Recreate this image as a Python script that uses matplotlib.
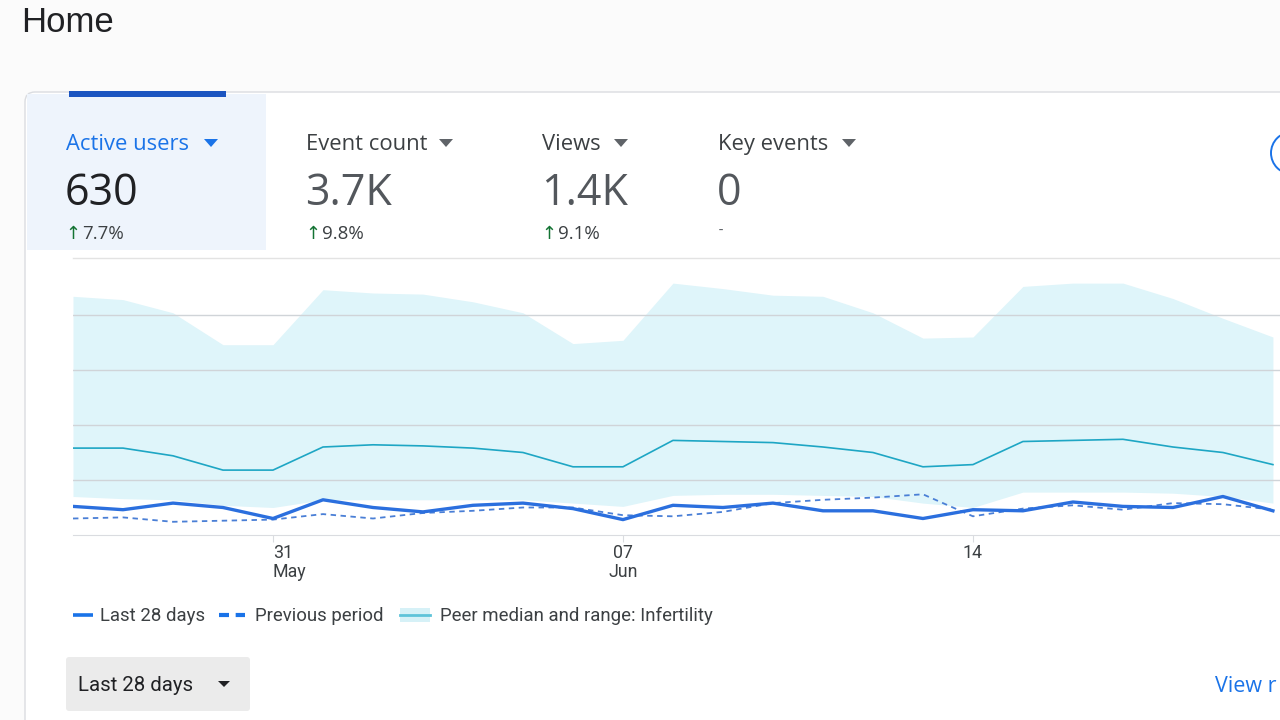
import matplotlib.pyplot as plt
import matplotlib.dates as mdates
import pandas as pd
from matplotlib.patches import FancyBboxPatch, Rectangle, Polygon, Circle

plt.rcParams["font.family"] = ["Roboto", "DejaVu Sans"]
HEAD = ["Open Sans", "DejaVu Sans"]

# daily values (27 May - 20 Jun)
days = pd.date_range("2024-05-27", "2024-06-20")
last_28 = [26, 23, 29, 25, 15, 32, 25, 21, 27, 29, 24, 14, 27,
           25, 29, 22, 22, 15, 23, 22, 30, 26, 25, 35, 22]
previous = [15, 16, 12, 13, 14, 19, 15, 20, 22, 25, 25, 18, 17,
            21, 29, 32, 34, 37, 17, 24, 27, 23, 29, 28, 23]
peer_median = [79, 79, 72, 59, 59, 80, 82, 81, 79, 75, 62, 62, 86,
               85, 84, 80, 75, 62, 64, 85, 86, 87, 80, 75, 64]
peer_low = [35, 33, 32, 27, 25, 32, 32, 32, 32, 32, 29, 26, 36,
            37, 37, 36, 35, 29, 25, 39, 39, 39, 38, 35, 29]
peer_high = [217, 214, 202, 173, 173, 223, 220, 219, 212, 202, 174, 177, 229,
             224, 218, 217, 202, 179, 180, 226, 229, 229, 215, 197, 180]

tick_days = pd.to_datetime(["2024-05-31", "2024-06-07", "2024-06-14"])
tick_labels = ["31\nMay", "07\nJun", "14"]
tick_align = ["left", "center", "center"]

metric_names = ["Active users", "Event count", "Views", "Key events"]
metric_values = ["630", "3.7K", "1.4K", "0"]
metric_changes = ["7.7%", "9.8%", "9.1%", "-"]
metric_x = [66, 306, 542, 718]
arrow_x = [204, 439, 614, 842]

BLUE = "#1a73e8"
TEXT = "#3c4043"
GREY = "#5f6368"

fig = plt.figure(figsize=(12.8, 7.2), dpi=100, facecolor="#fbfbfb")

# pixel-space layer for the page furniture
bg = fig.add_axes([0, 0, 1, 1])
bg.set_xlim(0, 1280)
bg.set_ylim(720, 0)
bg.axis("off")

bg.text(21, 32, "Home", fontsize=25, color="#202124", family="Liberation Sans", va="baseline")

bg.add_patch(FancyBboxPatch((25, 92), 1300, 700, boxstyle="round,pad=0,rounding_size=10",
                            fc="white", ec="#dadce0", lw=1))
bg.add_patch(Rectangle((27, 94), 239, 156, fc="#eef4fc", ec="none"))
bg.add_patch(Rectangle((69, 91), 157, 6, fc="#1b55c1", ec="none"))
bg.plot([73, 1280], [258, 258], color="#e3e3e3", lw=1)
bg.add_patch(Circle((1292, 153), 21, fc="none", ec=BLUE, lw=1.4))

for i, name in enumerate(metric_names):
    x = metric_x[i]
    selected = i == 0
    bg.text(x, 150, name, fontsize=15.8, family=HEAD,
            color=BLUE if selected else TEXT, va="baseline")
    ax0 = arrow_x[i]
    bg.add_patch(Polygon([[ax0, 139], [ax0 + 14, 139], [ax0 + 7, 147]],
                         fc=BLUE if selected else GREY, ec="none"))
    bg.text(x - 1, 205, metric_values[i], fontsize=31, family=HEAD,
            color="#202124" if selected else "#53575c", va="baseline")
    if metric_changes[i] == "-":
        bg.text(x + 1, 235, "-", fontsize=11, color=GREY, va="baseline")
    else:
        bg.text(x - 1, 239, "\u2191", fontsize=13, color="#137333", va="baseline")
        bg.text(x + 16, 239, metric_changes[i], fontsize=13.5, family=HEAD,
                color=TEXT, va="baseline")

# legend row
bg.plot([73, 93], [615, 615], color=BLUE, lw=2.6, solid_capstyle="butt")
bg.text(100, 621, "Last 28 days", fontsize=13.4, color=TEXT, va="baseline")
bg.plot([219, 245], [615, 615], color=BLUE, lw=3, dashes=(2.4, 1.6))
bg.text(255, 621, "Previous period", fontsize=13.4, color=TEXT, va="baseline")
bg.add_patch(Rectangle((400, 608), 30, 14, fc="#d6f1f7", ec="none"))
bg.plot([400, 430], [615, 615], color="#5ec3d9", lw=2)
bg.text(440, 621, "Peer median and range: Infertility", fontsize=13.4, color=TEXT,
        va="baseline")

# period button
bg.add_patch(FancyBboxPatch((66, 657), 184, 54, boxstyle="round,pad=0,rounding_size=3",
                            fc="#ebebeb", ec="none"))
bg.text(78, 691, "Last 28 days", fontsize=14.7, color="#202124", va="baseline")
bg.add_patch(Polygon([[218, 681], [230, 681], [224, 687]], fc="#202124", ec="none"))
bg.text(1215, 692, "View r", fontsize=15.5, family=HEAD, color=BLUE, va="baseline")

# the chart itself
ax = fig.add_axes([73 / 1280, 1 - 535 / 720, (1280 - 73) / 1280, (535 - 260) / 720])
ax.patch.set_alpha(0)
ax.fill_between(days, peer_low, peer_high, color="#dff5fa", lw=0, zorder=0.2)
ax.plot(days, peer_median, color="#1ea6c4", lw=1.2, zorder=3)
ax.plot(days, previous, color="#4a7fd6", lw=1.3, dashes=(3, 2.5), zorder=3)
ax.plot(days, last_28, color="#2b6fde", lw=2.4, zorder=4)

ax.set_ylim(0, 250)
ax.set_xlim(days[0], days[-1] + pd.Timedelta(hours=3.4))
ax.set_yticks([50, 100, 150, 200])
ax.yaxis.grid(True, color="#d0d4d8", lw=1)
ax.set_axisbelow(True)
ax.tick_params(axis="y", left=False, labelleft=False)

ax.set_xticks(tick_days)
ax.set_xticklabels(tick_labels)
ax.tick_params(axis="x", length=5, color="#dadce0", labelsize=12.8, labelcolor=TEXT, pad=1.5)
for lbl, ha in zip(ax.get_xticklabels(), tick_align):
    lbl.set_ha(ha)
    lbl.set_multialignment(ha)
    lbl.set_linespacing(1.05)

for side in ["top", "right", "left"]:
    ax.spines[side].set_visible(False)
ax.spines["bottom"].set_color("#dadce0")

fig.savefig("out.png", dpi=100, facecolor=fig.get_facecolor())
